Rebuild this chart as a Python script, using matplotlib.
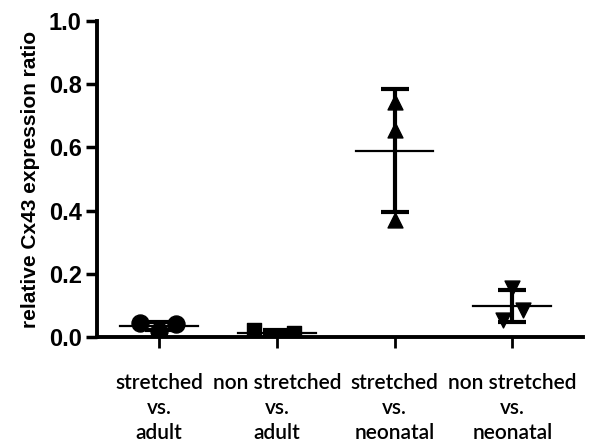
import numpy as np
import matplotlib
matplotlib.use("Agg")
import matplotlib.pyplot as plt

# Relative Cx43 expression ratio per comparison group (n = 3 each)
categories = ["stretched\nvs.\nadult", "non stretched\nvs.\nadult",
              "stretched\nvs.\nneonatal", "non stretched\nvs.\nneonatal"]
stretched_adult = [0.044, 0.020, 0.042]
nonstretched_adult = [0.021, 0.004, 0.012]
stretched_neonatal = [0.745, 0.655, 0.370]
nonstretched_neonatal = [0.155, 0.085, 0.055]
groups = [stretched_adult, nonstretched_adult, stretched_neonatal, nonstretched_neonatal]

# horizontal scatter offsets within each column
offsets = [[-0.16, 0.0, 0.14], [-0.19, 0.0, 0.15], [0.0, 0.0, 0.0], [0.0, 0.09, -0.08]]
markers = ["o", "s", "^", "v"]
yticks = [0.0, 0.2, 0.4, 0.6, 0.8, 1.0]

fig = plt.figure(figsize=(6.06, 4.42), dpi=100)
ax = fig.add_axes([0.16, 0.2376, 0.802, 0.715])

for i, (vals, offs, m) in enumerate(zip(groups, offsets, markers)):
    vals = np.asarray(vals)
    mean = vals.mean()
    sd = vals.std(ddof=1)
    # SD whisker with caps
    ax.errorbar(i, mean, yerr=sd, fmt="none", ecolor="black", elinewidth=3,
                capsize=10, capthick=3, zorder=2)
    # mean line
    ax.plot([i - 0.33, i + 0.33], [mean, mean], color="black", lw=1.6, zorder=2)
    ms = 150 if m == "o" else 115
    ax.scatter(i + np.asarray(offs), vals, marker=m, s=ms, color="black",
               edgecolors="black", zorder=3)

ax.set_ylim(0, 1.0)
ax.set_xlim(-0.527, 3.6)
ax.set_yticks(yticks)
ax.set_yticklabels([f"{v:.1f}" for v in yticks], fontsize=17, fontweight="bold",
                   family="Liberation Sans")
ax.set_xticks(range(len(categories)))
ax.set_xticklabels(categories, fontsize=15, family="Lato", fontweight="semibold",
                   linespacing=1.3)
ax.tick_params(axis="x", length=8, width=2, pad=18)
ax.tick_params(axis="y", length=8, width=2.5, pad=3)
ax.set_ylabel("relative Cx43 expression ratio", fontsize=15, fontweight="bold",
              family="Liberation Sans", labelpad=6)

for side in ["top", "right"]:
    ax.spines[side].set_visible(False)
for side in ["left", "bottom"]:
    ax.spines[side].set_linewidth(2.8)

fig.savefig("out.png", dpi=100)
